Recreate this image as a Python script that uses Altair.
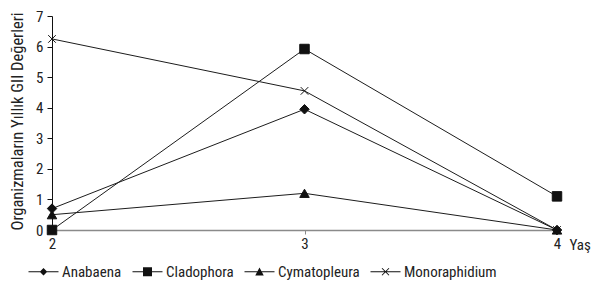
import altair as alt
import pandas as pd

years = [2, 3, 4]
series_names = ["Anabaena", "Cladophora", "Cymatopleura", "Monoraphidium"]
anabaena = [0.7, 3.95, 0.0]
cladophora = [0.0, 5.92, 1.1]
cymatopleura = [0.5, 1.2, 0.0]
monoraphidium = [6.25, 4.55, 0.0]

values = [anabaena, cladophora, cymatopleura, monoraphidium]
rows = []
for name, vals in zip(series_names, values):
    for yr, v in zip(years, vals):
        rows.append({"Yil": yr, "Deger": v, "Seri": name})
df = pd.DataFrame(rows)

FONT = "Liberation Sans Narrow, Roboto Condensed, Liberation Sans, Arial"
xpath = "M-0.8,-0.8L0.8,0.8M-0.8,0.8L0.8,-0.8"
marker_range = ["diamond", "square", "triangle-up", xpath]

LINE = "M-3,-0.1H3V0.1H-3Z"
legend_range = [
    LINE + "M0,-0.75L0.75,0L0,0.75L-0.75,0Z",
    LINE + "M-0.9,-0.9H0.9V0.9H-0.9Z",
    LINE + "M0,-0.85L0.85,0.75H-0.85Z",
    LINE + "M-0.63,-0.77L0.77,0.63L0.63,0.77L-0.77,-0.63Z"
    "M-0.77,0.63L0.63,-0.77L0.77,-0.63L-0.63,0.77Z",
]

x_enc = alt.X(
    "Yil:Q",
    scale=alt.Scale(domain=[min(years), max(years)], nice=False, zero=False),
    axis=alt.Axis(
        tickCount=2, format="d", title="Yaş", grid=False,
        domainColor="#8a8a8a", domainWidth=1.6,
        tickColor="#8a8a8a", tickSize=4,
        labelFont=FONT, labelFontSize=15, labelColor="#222",
        labelPadding=2, labelOverlap=False, labelFlush=False, labelBound=False,
        titleFont=FONT, titleFontSize=15, titleFontWeight="normal", titleColor="#222",
        titleX=517, titleY=14, titleAlign="left", titleBaseline="middle",
    ),
)
y_enc = alt.Y(
    "Deger:Q",
    scale=alt.Scale(domain=[0, 7], nice=False),
    axis=alt.Axis(
        values=list(range(0, 8)), tickCount=10, format="d", grid=False,
        domainColor="#111", domainWidth=1,
        tickColor="#111", tickSize=5,
        labelFont=FONT, labelFontSize=15, labelColor="#222",
        labelPadding=4, labelOverlap=False,
        title="Organizmaların Yıllık GII Değerleri",
        titleFont=FONT, titleFontSize=16.5, titleFontWeight="normal", titleColor="#222",
        titleX=-35, titleY=105, titleAngle=270, titleAlign="center", titleBaseline="middle",
    ),
)

lines = alt.Chart(df).mark_line(color="#1c1c1c", strokeWidth=1).encode(
    x=x_enc, y=y_enc, detail="Seri:N"
)

points = alt.Chart(df).mark_point(
    filled=True, fill="#111", stroke="#111", strokeWidth=1, size=90, opacity=1
).encode(
    x=x_enc,
    y=y_enc,
    shape=alt.Shape(
        "Seri:N",
        scale=alt.Scale(domain=series_names, range=marker_range),
        legend=None,
    ),
)

legend_layer = alt.Chart(df).mark_point(
    filled=True, fill="#111", size=100, opacity=0
).encode(
    x=x_enc,
    y=y_enc,
    shape=alt.Shape(
        "Seri:N",
        scale=alt.Scale(domain=series_names, range=legend_range),
        legend=alt.Legend(
            title=None, orient="none", direction="horizontal", columns=4,
            legendX=-16, legendY=248,
            symbolSize=100, symbolFillColor="#111",
            symbolOpacity=1,
            labelFont=FONT, labelFontSize=15, labelColor="#222",
            labelOffset=11, columnPadding=7,
        ),
    ),
)

chart = alt.layer(lines, points, legend_layer).resolve_scale(
    shape="independent"
).properties(
    width=505, height=214,
    autosize=alt.AutoSizeParams(type="none"),
    padding={"left": 44, "top": 8, "right": 35, "bottom": 50},
).configure_view(stroke=None)

chart.save("out.html", embed_options={"renderer": "svg", "actions": False})
